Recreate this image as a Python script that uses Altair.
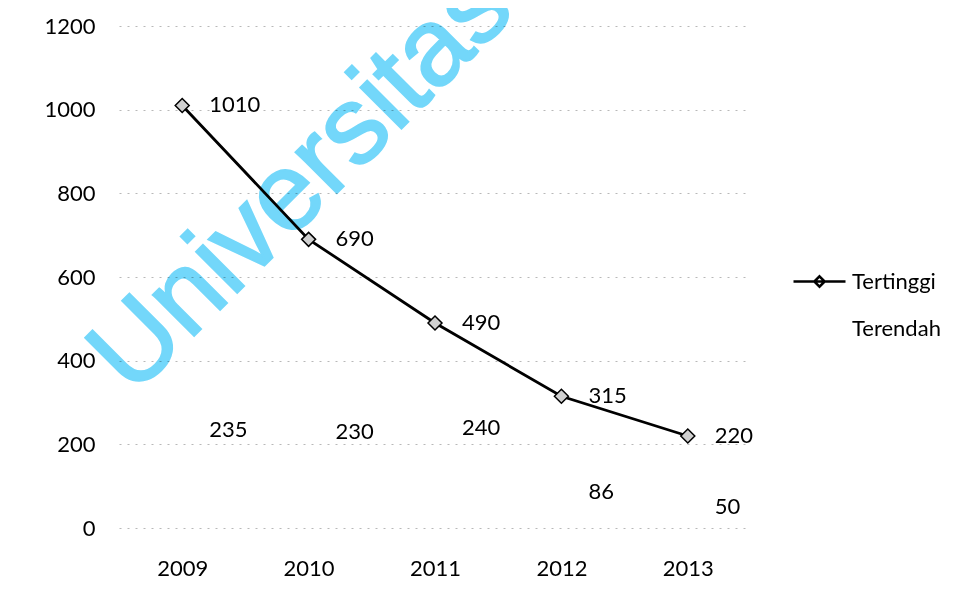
import altair as alt
import pandas as pd

years = ["2009", "2010", "2011", "2012", "2013"]
tertinggi = [1010, 690, 490, 315, 220]
terendah = [235, 230, 240, 86, 50]
series_names = ["Tertinggi", "Terendah"]
y_ticks = [0, 200, 400, 600, 800, 1000, 1200]
watermark_text = "Universitas"

rows = []
for y, v in zip(years, tertinggi):
    rows.append({"year": y, "value": v, "series": "Tertinggi"})
for y, v in zip(years, terendah):
    rows.append({"year": y, "value": v, "series": "Terendah"})
df = pd.DataFrame(rows)

FONT = "Lato"

x_enc = alt.X("year:O", scale=alt.Scale(type="point", padding=0.5),
              axis=alt.Axis(title=None, labelAngle=0, ticks=False, domain=False,
                            grid=False, labelPadding=30, labelFontSize=22,
                            labelFont=FONT, labelColor="black"))
y_enc = alt.Y("value:Q", scale=alt.Scale(domain=[0, 1200], nice=False),
              axis=alt.Axis(title=None, values=y_ticks, format="d", ticks=False,
                            domain=False, grid=True, gridColor="#b8b8b8",
                            gridDash=[2, 6], gridWidth=1, labelPadding=24,
                            labelFontSize=22, labelFont=FONT, labelColor="black"))

base = alt.Chart(df)

line = base.transform_filter(alt.datum.series == "Tertinggi").mark_line(
    strokeWidth=2.8
).encode(
    x=x_enc, y=y_enc,
    color=alt.Color("series:N",
                    scale=alt.Scale(domain=series_names, range=["black", "transparent"]),
                    legend=alt.Legend(
                        title=None, orient="none", legendX=673, legendY=228,
                        symbolType="M-1,0L1,0M0,-0.2L0.2,0L0,0.2L-0.2,0Z",
                        symbolSize=2704, symbolStrokeWidth=2.5,
                        labelFont=FONT, labelFontSize=22, labelColor="black",
                        labelOffset=5, rowPadding=8)),
)

points = base.transform_filter(alt.datum.series == "Tertinggi").mark_point(
    shape="diamond", size=196, filled=True, fill="#d0d0d0", stroke="black",
    strokeWidth=1.5, opacity=1
).encode(x="year:O", y="value:Q")

labels = base.mark_text(
    align="left", baseline="middle", dx=27, fontSize=22, font=FONT, color="black"
).encode(x="year:O", y="value:Q", text="value:Q")

watermark = alt.Chart(pd.DataFrame({"t": [watermark_text]})).mark_text(
    font="Liberation Sans", fontSize=110, angle=315, align="center",
    baseline="alphabetic", color="#73D7FA", stroke="#73D7FA", strokeWidth=2,
    blend="multiply"
).encode(text="t:N", x=alt.value(206), y=alt.value(179))

chart = alt.layer(line, points, labels, watermark).properties(
    width=632, height=502,
    autosize=alt.AutoSizeParams(type="none"),
    padding={"left": 111, "top": 18, "right": 200, "bottom": 70},
    background="white",
).configure_view(stroke=None)

chart.save("out.html", embed_options={"renderer": "svg", "actions": False})
